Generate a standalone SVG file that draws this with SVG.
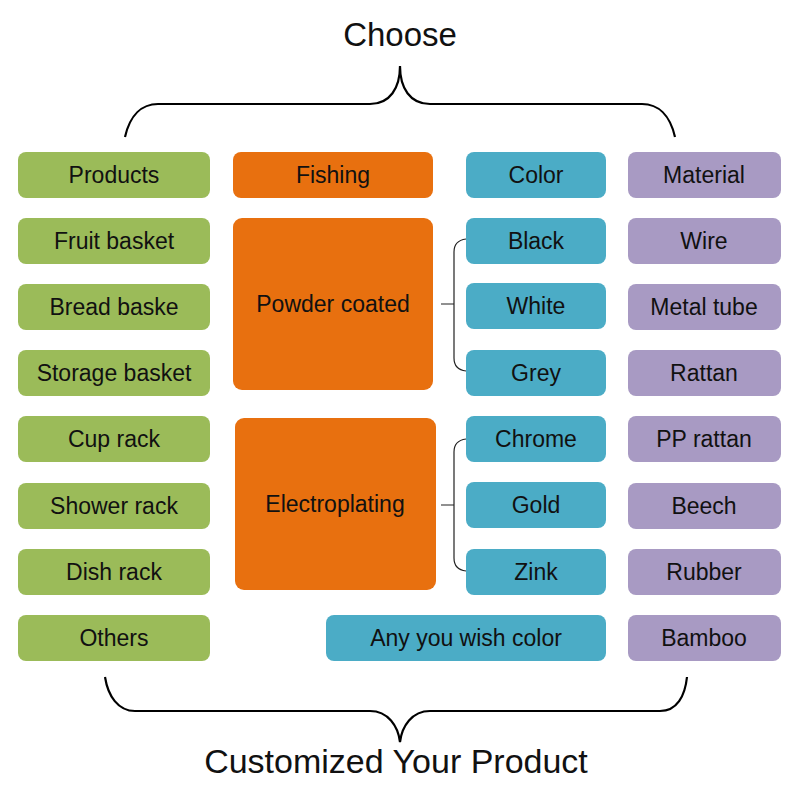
<svg xmlns="http://www.w3.org/2000/svg" width="800" height="800" viewBox="0 0 800 800">
<style>
.g{fill:#9bbb59}.o{fill:#e8700f}.b{fill:#4bacc6}.p{fill:#a89ac3}
text{font-family:"Liberation Sans",Arial,sans-serif;fill:#111;text-anchor:middle}
.t{font-size:23px}
.h1{font-size:33px}
.h2{font-size:34px}
.c{fill:none;stroke:#222;stroke-width:1.2}
.br{fill:none;stroke:#000;stroke-width:2.2}
</style>
<rect width="800" height="800" fill="#fff"/>
<text class="h1" x="400" y="46">Choose</text>
<path class="br" d="M125,137 C130,115 142,104 158,104 L370,104 C390,104 400,88 400,66 M400,66 C400,88 410,104 430,104 L642,104 C658,104 670,115 675,137"/>
<path class="br" d="M105,677 C108,696 118,711 135,711 L370,711 C388,711 398,726 400,742 C402,726 412,711 430,711 L660,711 C677,711 685,696 687,677"/>
<text class="h2" x="396" y="773">Customized Your Product</text>
<g id="connectors">
<path class="c" d="M441,304 H454 M466,239 C458,240 454,244 454,252 V358 C454,366 458,370 466,371"/>
<path class="c" d="M441,505 H454 M466,439 C458,440 454,444 454,452 V558 C454,566 458,570 466,571"/>
</g>
<g id="products"><rect class="g" x="18" y="152" width="192" height="46" rx="8"/><text class="t" x="114" y="183">Products</text></g>
<g id="fruit-basket"><rect class="g" x="18" y="218" width="192" height="46" rx="8"/><text class="t" x="114" y="249">Fruit basket</text></g>
<g id="bread-baske"><rect class="g" x="18" y="284" width="192" height="46" rx="8"/><text class="t" x="114" y="315">Bread baske</text></g>
<g id="storage-basket"><rect class="g" x="18" y="350" width="192" height="46" rx="8"/><text class="t" x="114" y="381">Storage basket</text></g>
<g id="cup-rack"><rect class="g" x="18" y="416" width="192" height="46" rx="8"/><text class="t" x="114" y="447">Cup rack</text></g>
<g id="shower-rack"><rect class="g" x="18" y="483" width="192" height="46" rx="8"/><text class="t" x="114" y="514">Shower rack</text></g>
<g id="dish-rack"><rect class="g" x="18" y="549" width="192" height="46" rx="8"/><text class="t" x="114" y="580">Dish rack</text></g>
<g id="others"><rect class="g" x="18" y="615" width="192" height="46" rx="8"/><text class="t" x="114" y="646">Others</text></g>
<g id="fishing"><rect class="o" x="233" y="152" width="200" height="46" rx="8"/><text class="t" x="333" y="183">Fishing</text></g>
<g id="powder-coated"><rect class="o" x="233" y="218" width="200" height="172" rx="9"/><text class="t" x="333" y="312">Powder coated</text></g>
<g id="electroplating"><rect class="o" x="235" y="418" width="201" height="172" rx="9"/><text class="t" x="335" y="512">Electroplating</text></g>
<g id="color"><rect class="b" x="466" y="152" width="140" height="46" rx="8"/><text class="t" x="536" y="183">Color</text></g>
<g id="black"><rect class="b" x="466" y="218" width="140" height="46" rx="8"/><text class="t" x="536" y="249">Black</text></g>
<g id="white"><rect class="b" x="466" y="283" width="140" height="46" rx="8"/><text class="t" x="536" y="314">White</text></g>
<g id="grey"><rect class="b" x="466" y="350" width="140" height="46" rx="8"/><text class="t" x="536" y="381">Grey</text></g>
<g id="chrome"><rect class="b" x="466" y="416" width="140" height="46" rx="8"/><text class="t" x="536" y="447">Chrome</text></g>
<g id="gold"><rect class="b" x="466" y="482" width="140" height="46" rx="8"/><text class="t" x="536" y="513">Gold</text></g>
<g id="zink"><rect class="b" x="466" y="549" width="140" height="46" rx="8"/><text class="t" x="536" y="580">Zink</text></g>
<g id="any-color"><rect class="b" x="326" y="615" width="280" height="46" rx="8"/><text class="t" x="466" y="646">Any you wish color</text></g>
<g id="material"><rect class="p" x="628" y="152" width="153" height="46" rx="8"/><text class="t" x="704" y="183">Material</text></g>
<g id="wire"><rect class="p" x="628" y="218" width="153" height="46" rx="8"/><text class="t" x="704" y="249">Wire</text></g>
<g id="metal-tube"><rect class="p" x="628" y="284" width="153" height="46" rx="8"/><text class="t" x="704" y="315">Metal tube</text></g>
<g id="rattan"><rect class="p" x="628" y="350" width="153" height="46" rx="8"/><text class="t" x="704" y="381">Rattan</text></g>
<g id="pp-rattan"><rect class="p" x="628" y="416" width="153" height="46" rx="8"/><text class="t" x="704" y="447">PP rattan</text></g>
<g id="beech"><rect class="p" x="628" y="483" width="153" height="46" rx="8"/><text class="t" x="704" y="514">Beech</text></g>
<g id="rubber"><rect class="p" x="628" y="549" width="153" height="46" rx="8"/><text class="t" x="704" y="580">Rubber</text></g>
<g id="bamboo"><rect class="p" x="628" y="615" width="153" height="46" rx="8"/><text class="t" x="704" y="646">Bamboo</text></g>
</svg>
